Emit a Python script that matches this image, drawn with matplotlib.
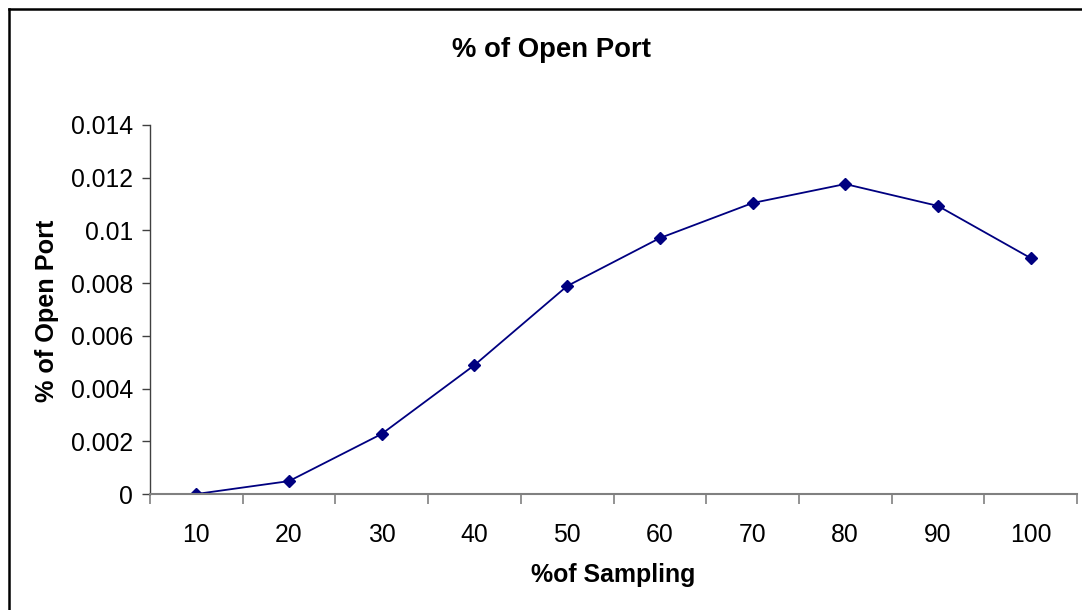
import matplotlib.pyplot as plt
from matplotlib.lines import Line2D

# Chart data
sampling_pct = ["10", "20", "30", "40", "50", "60", "70", "80", "90", "100"]
open_port_pct = [0.0, 0.00049, 0.00228, 0.00489, 0.00789, 0.00971,
                 0.01104, 0.01176, 0.01093, 0.00895]
y_ticks = [0, 0.002, 0.004, 0.006, 0.008, 0.01, 0.012, 0.014]
y_tick_labels = ["0", "0.002", "0.004", "0.006", "0.008", "0.01", "0.012", "0.014"]

W, H = 1082, 610
plt.rcParams["font.family"] = ["Liberation Sans", "DejaVu Sans"]

fig = plt.figure(figsize=(W / 100, H / 100), dpi=100)
ax = fig.add_axes([150 / W, 1 - 494 / H, (1077 - 150) / W, (494 - 125) / H])

positions = range(len(sampling_pct))
ax.plot(positions, open_port_pct, color="#000080", linewidth=1.3,
        marker="D", markersize=6.5, markerfacecolor="#000080",
        markeredgecolor="#000080")

ax.set_xlim(-0.5, len(sampling_pct) - 0.5)
ax.set_ylim(0, 0.014)
ax.set_yticks(y_ticks)
ax.set_yticklabels(y_tick_labels)

# category labels centred, tick marks on the category boundaries
ax.set_xticks(list(positions))
ax.set_xticklabels(sampling_pct)
ax.tick_params(axis="x", which="major", length=0, pad=21, labelsize=17.8)
ax.set_xticks([p - 0.5 for p in range(len(sampling_pct) + 1)], minor=True)
ax.tick_params(axis="x", which="minor", length=7, width=1.2, color="#808080",
               direction="out")
ax.tick_params(axis="y", length=6, width=1.0, color="#404040", pad=6,
               labelsize=17.8)

for side in ("top", "right"):
    ax.spines[side].set_visible(False)
ax.spines["bottom"].set_color("#808080")
ax.spines["bottom"].set_linewidth(1.5)
ax.spines["left"].set_color("#404040")
ax.spines["left"].set_linewidth(1.0)

fig.text(551 / W, 1 - 50 / H, "% of Open Port", ha="center", va="center",
         fontsize=19.8, fontweight="bold")
fig.text(613 / W, 1 - 575 / H, "%of Sampling", ha="center", va="center",
         fontsize=17.9, fontweight="bold")
fig.text(47 / W, 1 - 311 / H, "% of Open Port", ha="center", va="center",
         rotation=90, fontsize=18.2, fontweight="bold")

# outer chart frame (only top and left edges fall inside the image)
fig.add_artist(Line2D([8.5 / W, 1.0], [1 - 8.5 / H, 1 - 8.5 / H],
                      transform=fig.transFigure, color="black", linewidth=1.8))
fig.add_artist(Line2D([8.5 / W, 8.5 / W], [0.0, 1 - 8.5 / H],
                      transform=fig.transFigure, color="black", linewidth=1.8))

fig.savefig("out.png", dpi=100)
